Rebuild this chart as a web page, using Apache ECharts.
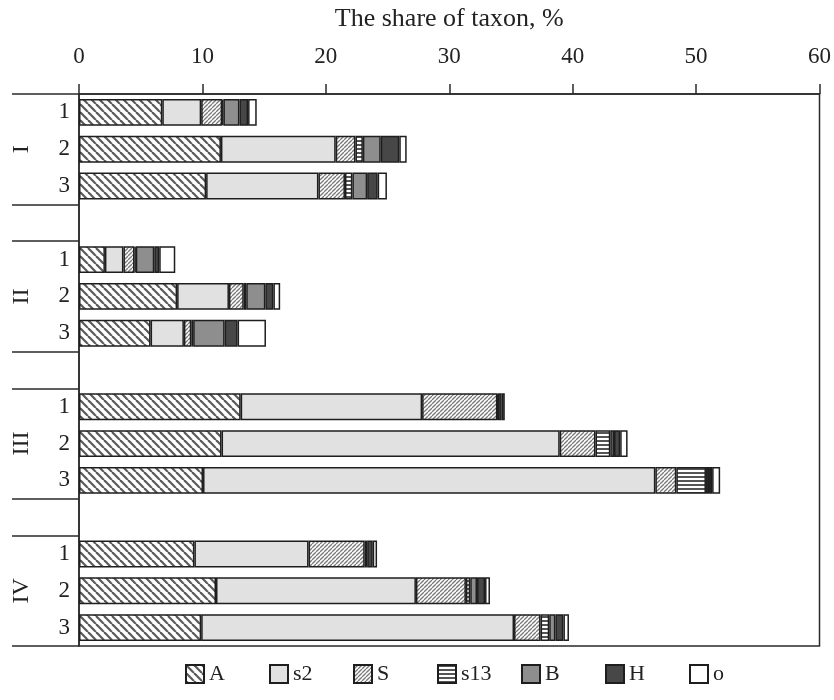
<!DOCTYPE html>
<html>
<head>
<meta charset="utf-8">
<script src="https://cdn.jsdelivr.net/npm/echarts@6/dist/echarts.min.js"></script>
<style>
  html, body { margin: 0; padding: 0; background: #fff; }
  #chart { width: 834px; height: 700px; }
</style>
</head>
<body>
<div id="chart"></div>
<script>
// Groups (sites) and replicate rows within each group
const groups = ['I', 'II', 'III', 'IV'];
const subs = ['1', '2', '3'];

// Taxon share (%) per row: I-1..I-3, II-1..II-3, III-1..III-3, IV-1..IV-3
const seriesNames = ['A', 's2', 'S', 's13', 'B', 'H', 'o'];
const valA   = [6.75, 11.5, 10.3,   2.1, 7.95, 5.8,   13.1, 11.55, 10.05,   9.35, 11.1, 9.9];
const valS2  = [3.15, 9.3, 9.1,     1.5, 4.2, 2.7,    14.7, 27.4, 36.65,    9.25, 16.2, 25.35];
const valS   = [1.7, 1.6, 2.15,     0.9, 1.2, 0.6,    6.1, 2.9, 1.7,        4.55, 4.05, 2.15];
const valS13 = [0.1, 0.6, 0.6,      0.1, 0.2, 0.15,   null, 1.2, 2.4,       null, 0.35, 0.7];
const valB   = [1.3, 1.45, 1.2,     1.5, 1.55, 2.55,  0.05, 0.3, 0.25,      0.2, 0.55, 0.5];
const valH   = [0.7, 1.5, 0.85,     0.4, 0.65, 1.05,  0.3, 0.5, 0.25,       0.45, 0.65, 0.65];
const valO   = [0.7, 0.6, 0.75,     1.3, 0.55, 2.3,   0.25, 0.6, 0.65,      0.35, 0.4, 0.45];

const xTicks = { min: 0, max: 60, interval: 10 };

// Build category rows with an empty spacer row between groups
const categories = [];
groups.forEach((g, gi) => {
  subs.forEach(s => categories.push(g + '-' + s));
  if (gi < groups.length - 1) categories.push('gap' + gi);
});
const isGap = (c) => c.indexOf('-') < 0;

function expand(vals) {
  const out = [];
  let k = 0;
  categories.forEach(c => {
    if (isGap(c)) out.push(null);
    else out.push(vals[k++]);
  });
  return out;
}

// Hatch fills
function hatch(kind) {
  const c = document.createElement('canvas');
  const ctx = c.getContext('2d');
  if (kind === 'back') {          // "\\\\" wide diagonal
    const s = 8;
    c.width = s; c.height = s;
    ctx.fillStyle = '#fff'; ctx.fillRect(0, 0, s, s);
    ctx.strokeStyle = '#5a5a5a'; ctx.lineWidth = 2.2;
    for (let x0 = -s; x0 <= s; x0 += s) {
      ctx.beginPath(); ctx.moveTo(x0, 0); ctx.lineTo(x0 + s, s); ctx.stroke();
    }
  } else if (kind === 'fwd') {    // "////" dense diagonal
    const s = 4;
    c.width = s; c.height = s;
    ctx.fillStyle = '#fff'; ctx.fillRect(0, 0, s, s);
    ctx.strokeStyle = '#7a7a7a'; ctx.lineWidth = 1.3;
    for (let x0 = -s; x0 <= s; x0 += s) {
      ctx.beginPath(); ctx.moveTo(x0, s); ctx.lineTo(x0 + s, 0); ctx.stroke();
    }
  } else {                        // horizontal stripes
    c.width = 4; c.height = 4;
    ctx.fillStyle = '#fff'; ctx.fillRect(0, 0, 4, 4);
    ctx.fillStyle = '#555'; ctx.fillRect(0, 0, 4, 2);
  }
  return { image: c, repeat: 'repeat' };
}

const fills = [
  hatch('back'),
  '#e1e1e1',
  hatch('fwd'),
  hatch('horiz'),
  '#8e8e8e',
  '#474747',
  '#ffffff'
];
const values = [valA, valS2, valS, valS13, valB, valH, valO];

const serif = '"Liberation Serif", "DejaVu Serif", serif';
const groupEdges = [0, 3, 4, 7, 8, 11, 12];

const chart = echarts.init(document.getElementById('chart'), null, { renderer: 'canvas' });
chart.setOption({
  animation: false,
  backgroundColor: '#fff',
  grid: {
    left: 79, right: 14, top: 94, bottom: 54,
    show: true, borderColor: '#2a2a2a', borderWidth: 1.5, backgroundColor: 'transparent'
  },
  legend: {
    bottom: 10,
    left: 180,
    itemWidth: 18,
    itemHeight: 18,
    itemGap: 10,
    icon: 'rect',
    formatter: (name) => '{t|' + name + '}',
    textStyle: {
      fontFamily: serif, fontSize: 22, color: '#222',
      rich: { t: { width: 50, backgroundColor: '#fff', fontFamily: serif, fontSize: 22, color: '#222' } }
    },
    data: seriesNames
  },
  xAxis: {
    type: 'value',
    position: 'top',
    min: xTicks.min, max: xTicks.max, interval: xTicks.interval,
    name: 'The share of taxon, %',
    nameLocation: 'middle',
    nameGap: 62,
    nameTextStyle: { fontFamily: serif, fontSize: 26, color: '#222' },
    axisLine: { show: true, lineStyle: { color: '#2a2a2a', width: 1.5 } },
    axisTick: { show: true, inside: false, length: 10, lineStyle: { color: '#2a2a2a', width: 1.5 } },
    axisLabel: { fontFamily: serif, fontSize: 23, color: '#222', margin: 26 },
    splitLine: { show: false }
  },
  yAxis: [
    {
      type: 'category',
      inverse: true,
      data: categories,
      axisLine: { show: true, lineStyle: { color: '#2a2a2a', width: 1.5 } },
      axisTick: {
        show: true,
        length: 67,
        interval: (idx) => groupEdges.indexOf(idx) >= 0,
        lineStyle: { color: '#2a2a2a', width: 1.5 }
      },
      axisLabel: {
        interval: 0,
        margin: 9,
        fontFamily: serif, fontSize: 23, color: '#222',
        formatter: (v) => isGap(v) ? '' : v.split('-')[1]
      },
      splitLine: { show: false }
    },
    {
      type: 'category',
      inverse: true,
      position: 'left',
      data: categories,
      axisLine: { show: false },
      axisTick: { show: false },
      axisLabel: {
        interval: 0,
        margin: 57,
        rotate: 90,
        align: 'center',
        verticalAlign: 'middle',
        fontFamily: serif, fontSize: 24, color: '#222',
        formatter: (v) => (!isGap(v) && v.split('-')[1] === '2') ? v.split('-')[0] : ''
      },
      splitLine: { show: false }
    }
  ],
  series: seriesNames.map((name, i) => ({
    name: name,
    type: 'bar',
    stack: 'share',
    yAxisIndex: 0,
    barWidth: '73%',
    data: expand(values[i]),
    itemStyle: { color: fills[i], borderColor: '#1e1e1e', borderWidth: 1.5 },
    emphasis: { disabled: true }
  }))
});
</script>
</body>
</html>
